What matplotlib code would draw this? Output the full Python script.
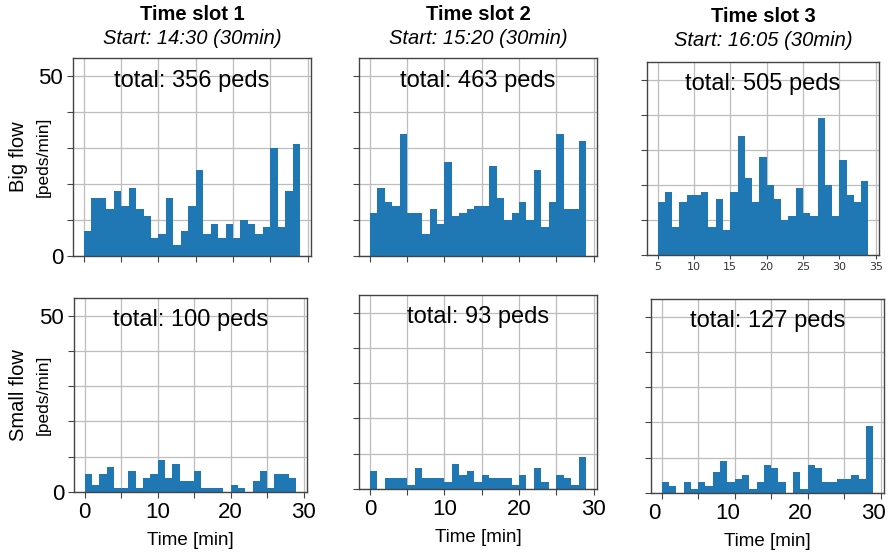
import numpy as np
import matplotlib
matplotlib.use("Agg")
import matplotlib.pyplot as plt
import matplotlib.transforms as mtransforms

plt.rcParams['font.family'] = ['Liberation Sans', 'DejaVu Sans']

# pedestrians per minute
big1 = [7, 16, 16, 13, 18, 14, 19, 13, 11, 5, 6, 16, 3, 7, 14, 24, 6, 9, 5, 9, 5, 10, 9, 6, 8, 30, 8, 18, 31]
big2 = [12, 19, 15, 14, 34, 12, 12, 6, 13, 9, 26, 11, 12, 13, 14, 14, 25, 16, 10, 12, 15, 10, 24, 8, 15, 34, 13, 13, 32]
big3 = [15, 18, 8, 15, 17, 17, 18, 8, 16, 7, 18, 34, 22, 15, 28, 20, 16, 10, 11, 19, 12, 11, 39, 20, 11, 27, 17, 15, 21]
small1 = [5, 2, 5, 7, 1, 1, 6, 1, 4, 5, 9, 4, 8, 3, 3, 6, 1, 1, 1, 0, 2, 1, 0, 3, 6, 1, 5, 5, 4]
small2 = [5, 0, 3, 3, 3, 1, 6, 3, 3, 3, 2, 7, 4, 5, 2, 4, 3, 3, 3, 1, 4, 0, 6, 2, 0, 4, 3, 1, 9]
small3 = [3, 2, 0, 3, 1, 3, 2, 6, 9, 3, 4, 5, 1, 3, 8, 7, 3, 0, 6, 1, 8, 7, 3, 3, 4, 4, 5, 4, 19]

big_start = [0, 0, 5]      # first minute of each top-row histogram
small_start = [0, 0, 0]

slot_titles = ['Time slot 1', 'Time slot 2', 'Time slot 3']
slot_starts = ['Start: 14:30 (30min)', 'Start: 15:20 (30min)', 'Start: 16:05 (30min)']
row_labels = [('Big flow', '[peds/min]'), ('Small flow', '[peds/min]')]

W, H = 891, 553
fig = plt.figure(figsize=(W / 100, H / 100), dpi=100)


def px_axes(l, t, r, b):
    return fig.add_axes([l / W, 1 - b / H, (r - l) / W, (b - t) / H])


# panel boxes in pixels (left, top, right, bottom)
boxes = [
    [(73, 58, 311, 256), (359, 58, 597, 256), (647, 62, 879, 255)],
    [(74, 298, 307, 492), (359, 295, 597, 489), (651, 299, 884, 493)],
]
data = [[big1, big2, big3], [small1, small2, small3]]
starts = [big_start, small_start]

for r in range(2):
    for c in range(3):
        ax = px_axes(*boxes[r][c])
        vals = data[r][c]
        x = np.arange(len(vals)) + starts[r][c]
        ax.bar(x, vals, width=1, align='edge', color='#1f77b4', linewidth=0, zorder=2)
        ax.set_ylim(0, 55)
        ax.set_yticks(np.arange(0, 51, 10))
        ax.grid(True, color='#bdbdbd', linewidth=0.9, zorder=0)
        for s in ax.spines.values():
            s.set_color('#444444')
            s.set_linewidth(1.0)
        ax.tick_params(length=4, color='#444444', labelsize=16, pad=3)
        if c == 0:
            ax.set_yticklabels(['0', '', '', '', '', '50'])
        else:
            ax.set_yticklabels([])
        if r == 0 and c == 2:
            ax.set_xticks(np.arange(5, 36, 5))
            ax.tick_params(axis='x', labelsize=8, length=3, pad=2, labelcolor='#333333')
            for lab in ax.get_xticklabels():
                lab.set_family('DejaVu Sans')
        else:
            ax.set_xticks(np.arange(0, 31, 5))
            if r == 1:
                ax.set_xticklabels(['0', '', '10', '', '20', '', '30'])
                ax.set_xlabel('Time [min]', fontsize=13.5, labelpad=7)
                if c == 2:
                    # labels sit a little left of the grid in the last panel
                    shift = mtransforms.ScaledTranslation(-7 / 100, 0, fig.dpi_scale_trans)
                    for lab in ax.get_xticklabels():
                        lab.set_transform(lab.get_transform() + shift)
            else:
                ax.set_xticklabels([])
        ax.text(0.5, 0.885, f'total: {sum(vals)} peds', transform=ax.transAxes,
                ha='center', va='center', fontsize=17, zorder=5)

# column titles
for c in range(3):
    l, t, rr, b = boxes[0][c]
    cx = (l + rr) / 2 / W
    off = 2 if c == 2 else 0
    fig.text(cx, 1 - (15 + off) / H, slot_titles[c], ha='center', va='center',
             fontsize=14.5, fontweight='bold')
    fig.text(cx, 1 - (39 + off) / H, slot_starts[c], ha='center', va='center',
             fontsize=14.5, style='italic')

# row labels
for r, (main, unit) in enumerate(row_labels):
    l, t, rr, b = boxes[r][0]
    cy = 1 - (t + b) / 2 / H
    fig.text(19 / W, cy, main, rotation=90, ha='center', va='center', fontsize=14.5)
    fig.text(43 / W, cy, unit, rotation=90, ha='center', va='center', fontsize=12.5)

fig.savefig('out.png', dpi=100)
